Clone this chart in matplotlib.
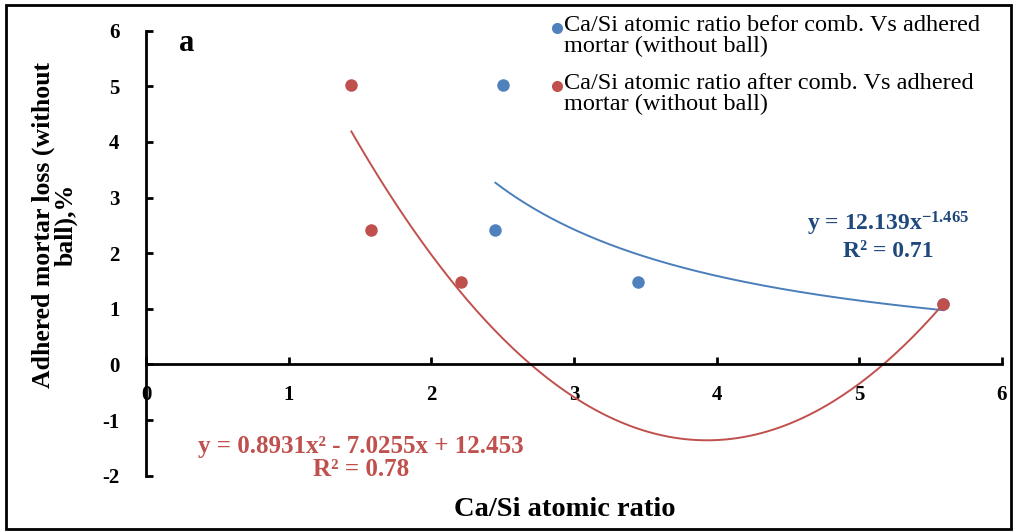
import numpy as np
import matplotlib
matplotlib.use("Agg")
import matplotlib.pyplot as plt
from matplotlib.lines import Line2D
from matplotlib.patches import Rectangle

plt.rcParams['font.family'] = ['Liberation Serif', 'DejaVu Serif']
plt.rcParams['axes.unicode_minus'] = False
plt.rcParams['mathtext.fontset'] = 'custom'
plt.rcParams['mathtext.rm'] = 'Liberation Serif:bold'
plt.rcParams['mathtext.bf'] = 'Liberation Serif:bold'
plt.rcParams['mathtext.it'] = 'Liberation Serif:bold'

# Ca/Si atomic ratio before / after combustion vs adhered mortar loss (%)
casi_before = [2.50, 2.45, 3.45, 5.59]
casi_after = [1.44, 1.58, 2.21, 5.59]
mortar_loss = [5.02, 2.42, 1.49, 1.08]

# trend line coefficients
power_a, power_b = 12.139, -1.465
poly_coef = [0.8931, -7.0255, 12.453]
r2_before, r2_after = 0.71, 0.78

blue = '#4F81BD'
red = '#C0504D'
eq_blue = '#1F497D'

fig = plt.figure(figsize=(10.15, 5.32), dpi=100)
ax = fig.add_axes([0.1438, 0.1058, 0.8432, 0.8365])

# fitted curves
xb = np.linspace(min(casi_before), max(casi_before), 200)
ax.plot(xb, power_a * xb ** power_b, color='#4A7EBB', lw=1.4, zorder=2)
xa = np.linspace(min(casi_after), max(casi_after), 200)
ax.plot(xa, np.polyval(poly_coef, xa), color=red, lw=1.4, zorder=2)

ax.plot(casi_before, mortar_loss, 'o', color=blue, ms=9, mec='none', zorder=3)
ax.plot(casi_after, mortar_loss, 'o', color=red, ms=9, mec='none', zorder=4)

ax.set_xlim(0, 6)
ax.set_ylim(-2, 6)
ax.set_xticks(range(0, 7))
ax.set_yticks(range(-2, 7))
ax.spines['top'].set_visible(False)
ax.spines['right'].set_visible(False)
ax.spines['left'].set_position(('data', 0))
ax.spines['bottom'].set_position(('data', 0))
for s in ('left', 'bottom'):
    ax.spines[s].set_linewidth(2.0)
ax.tick_params(axis='both', direction='in', length=5, width=2, labelsize=15)
ax.tick_params(axis='x', pad=15)
ax.tick_params(axis='y', pad=19)
for lbl in ax.get_xticklabels() + ax.get_yticklabels():
    lbl.set_fontweight('bold')

fig.text(187 / 1015, 1 - 44 / 532, 'a', fontsize=22, fontweight='bold',
         ha='center', va='center')

# axis titles
fig.text(565 / 1015, 1 - 510 / 532, 'Ca/Si atomic ratio', fontsize=20.5,
         fontweight='bold', ha='center', va='center')
fig.text(55 / 1015, 1 - 225 / 532, 'Adhered mortar loss (without\nball),%',
         fontsize=18.5, fontweight='bold', ha='center', va='center',
         rotation=90, multialignment='center', linespacing=0.95)

# trend line equations
fig.text(888 / 1015, 1 - 224 / 532, 'y = 12.139x$^{-1.465}$', fontsize=17,
         color=eq_blue, ha='center', va='center', fontweight='bold')
fig.text(888 / 1015, 1 - 252 / 532, 'R² = %.2f' % r2_before, fontsize=17,
         color=eq_blue, ha='center', va='center', fontweight='bold')
eq = 'y = %.4fx² - %.4fx + %.3f' % (poly_coef[0], -poly_coef[1], poly_coef[2])
fig.text(361 / 1015, 1 - 446 / 532, eq, fontsize=18, color=red,
         ha='center', va='center', fontweight='bold')
fig.text(361 / 1015, 1 - 470 / 532, 'R² = %.2f' % r2_after, fontsize=18,
         color=red, ha='center', va='center', fontweight='bold')

# legend, marker aligned with the first line of each entry
entries = [(blue, 'Ca/Si atomic ratio befor comb. Vs adhered\nmortar (without ball)', 28),
           (red, 'Ca/Si atomic ratio after comb. Vs adhered\nmortar (without ball)', 86)]
for color, label, ypix in entries:
    fig.add_artist(Line2D([557 / 1015], [1 - ypix / 532], marker='o', ls='none',
                          color=color, ms=8, mec='none',
                          transform=fig.transFigure))
    fig.text(564 / 1015, 1 - (ypix - 13) / 532, label, fontsize=17.5,
             ha='left', va='top', linespacing=1.02)

# outer frame
fig.add_artist(Rectangle((6 / 1015, 3 / 532), 1005 / 1015, 524 / 532,
                         transform=fig.transFigure, fill=False,
                         edgecolor='black', lw=2))

fig.savefig('out.png', dpi=100)
